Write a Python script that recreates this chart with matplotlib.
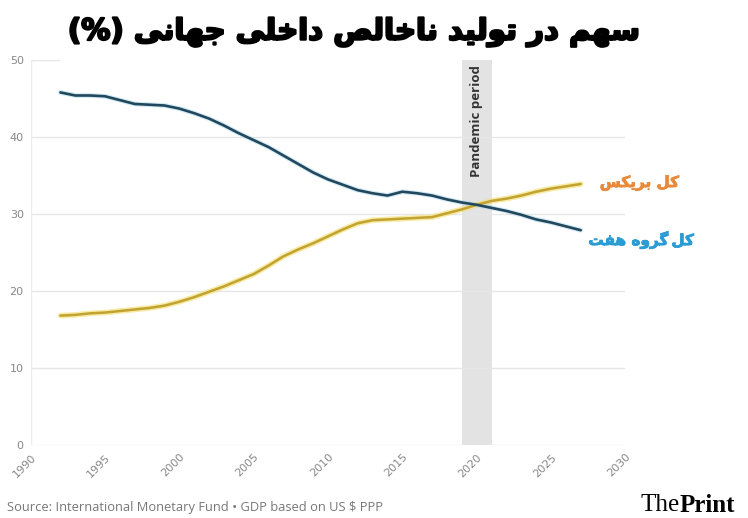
# -*- coding: utf-8 -*-
# Share of world GDP (PPP): BRICS vs G7
import matplotlib
matplotlib.use("Agg")
import matplotlib.pyplot as plt
import matplotlib.patheffects as pe

# data
years = list(range(1992, 2028))
g7 = [45.8, 45.4, 45.4, 45.3, 44.8, 44.3, 44.2, 44.1, 43.7, 43.1,
      42.4, 41.5, 40.5, 39.6, 38.7, 37.6, 36.5, 35.4, 34.5, 33.8,
      33.1, 32.7, 32.4, 32.9, 32.7, 32.4, 31.9, 31.5, 31.2, 30.8,
      30.4, 29.9, 29.3, 28.9, 28.4, 27.9]
brics = [16.8, 16.9, 17.1, 17.2, 17.4, 17.6, 17.8, 18.1, 18.6, 19.2,
         19.9, 20.6, 21.4, 22.2, 23.3, 24.5, 25.4, 26.2, 27.1, 28.0,
         28.8, 29.2, 29.3, 29.4, 29.5, 29.6, 30.1, 30.6, 31.2, 31.7,
         32.0, 32.4, 32.9, 33.3, 33.6, 33.9]
xticks = [1990, 1995, 2000, 2005, 2010, 2015, 2020, 2025, 2030]
yticks = [0, 10, 20, 30, 40, 50]
pandemic = (2019, 2021)

title_fa = "سهم در تولید ناخالص داخلی جهانی (%)"
brics_fa = "کل بریکس"
g7_fa = "کل\u2009گروه هفت"

# very small arabic shaper (matplotlib does no shaping / bidi)
FORMS = {
    "ا": ("\uFE8D", "\uFE8E", None, None),
    "ب": ("\uFE8F", "\uFE90", "\uFE91", "\uFE92"),
    "ت": ("\uFE95", "\uFE96", "\uFE97", "\uFE98"),
    "ج": ("\uFE9D", "\uFE9E", "\uFE9F", "\uFEA0"),
    "خ": ("\uFEA5", "\uFEA6", "\uFEA7", "\uFEA8"),
    "د": ("\uFEA9", "\uFEAA", None, None),
    "ر": ("\uFEAD", "\uFEAE", None, None),
    "س": ("\uFEB1", "\uFEB2", "\uFEB3", "\uFEB4"),
    "ص": ("\uFEB9", "\uFEBA", "\uFEBB", "\uFEBC"),
    "ف": ("\uFED1", "\uFED2", "\uFED3", "\uFED4"),
    "ل": ("\uFEDD", "\uFEDE", "\uFEDF", "\uFEE0"),
    "م": ("\uFEE1", "\uFEE2", "\uFEE3", "\uFEE4"),
    "ن": ("\uFEE5", "\uFEE6", "\uFEE7", "\uFEE8"),
    "ه": ("\uFEE9", "\uFEEA", "\uFEEB", "\uFEEC"),
    "و": ("\uFEED", "\uFEEE", None, None),
    "ی": ("\uFBFC", "\uFBFD", "\uFBFE", "\uFBFF"),
    "ک": ("\uFB8E", "\uFB8F", "\uFB90", "\uFB91"),
    "گ": ("\uFB92", "\uFB93", "\uFB94", "\uFB95"),
}


def shape(text):
    out = []
    for i, ch in enumerate(text):
        if ch not in FORMS:
            out.append(ch)
            continue
        prev = text[i - 1] if i > 0 else ""
        nxt = text[i + 1] if i + 1 < len(text) else ""
        join_prev = prev in FORMS and FORMS[prev][2] is not None
        join_next = nxt in FORMS and FORMS[ch][2] is not None
        iso, fin, ini, med = FORMS[ch]
        if join_prev and join_next:
            out.append(med)
        elif join_prev:
            out.append(fin)
        elif join_next:
            out.append(ini)
        else:
            out.append(iso)
    vis = "".join(reversed(out))
    return vis.translate(str.maketrans("()", ")("))


fig = plt.figure(figsize=(7.48, 5.18), dpi=100)
ax = fig.add_axes([0.041, 0.141, 0.795, 0.743])

ax.axvspan(pandemic[0], pandemic[1], color="#e3e3e3", lw=0, zorder=0)
ax.text(sum(pandemic) / 2, 49.3, "Pandemic period", rotation=90, ha="center",
        va="top", fontsize=9.5, fontweight="bold", color="#333333",
        family="Open Sans")

for y in yticks[:-1]:
    ax.axhline(y, color="#e6e6e6", lw=1, zorder=1)
ax.hlines(50, 1990, 1992, color="#e6e6e6", lw=1, zorder=1)
ax.axvline(1990, color="#ececec", lw=1, zorder=1)

ax.plot(years, brics, color="#f4e27c", lw=4, alpha=0.7, zorder=2,
        solid_capstyle="round")
ax.plot(years, brics, color="#c2a331", lw=1.8, zorder=3,
        solid_capstyle="round")
ax.plot(years, g7, color="#a9d6ea", lw=3.5, alpha=0.5, zorder=2,
        solid_capstyle="round")
ax.plot(years, g7, color="#21485d", lw=1.9, zorder=3,
        solid_capstyle="round")

ax.set_xlim(1990, 2030)
ax.set_ylim(0, 50)
ax.set_xticks(xticks)
ax.set_yticks(yticks)
ax.set_xticklabels([str(x) for x in xticks], rotation=45, ha="right",
                   rotation_mode="anchor", fontsize=8, color="#888888")
ax.set_yticklabels([str(y) for y in yticks], fontsize=8, color="#888888")
ax.tick_params(length=0, pad=5)
for s in ax.spines.values():
    s.set_visible(False)

ax.text(2033.6, 34.0, shape(brics_fa), color="#e88a3c", fontsize=11,
        fontweight="bold", ha="right", va="center", clip_on=False,
        path_effects=[pe.withStroke(linewidth=0.6, foreground="#e88a3c")])
ax.text(2034.6, 26.6, shape(g7_fa), color="#2b9bd3",
        fontsize=11, fontweight="bold", ha="right", va="center", clip_on=False,
        path_effects=[pe.withStroke(linewidth=0.6, foreground="#2b9bd3")])

fig.text(0.473, 0.938, shape(title_fa), fontsize=21, fontweight="bold",
         ha="center", va="center", color="black",
         path_effects=[pe.withStroke(linewidth=1.6, foreground="black")])
fig.text(0.009, 0.02, "Source: International Monetary Fund \u2022 GDP based on US $ PPP",
         fontsize=9.3, color="#777777", ha="left", va="center", family="Open Sans")
fig.text(0.909, 0.025, "The", fontsize=18, family="Liberation Serif",
         ha="right", va="center", color="black")
fig.text(0.909, 0.025, "Print", fontsize=18, family="Liberation Serif",
         fontweight="bold", ha="left", va="center", color="black")

fig.savefig("out.png", dpi=100, facecolor="white")
